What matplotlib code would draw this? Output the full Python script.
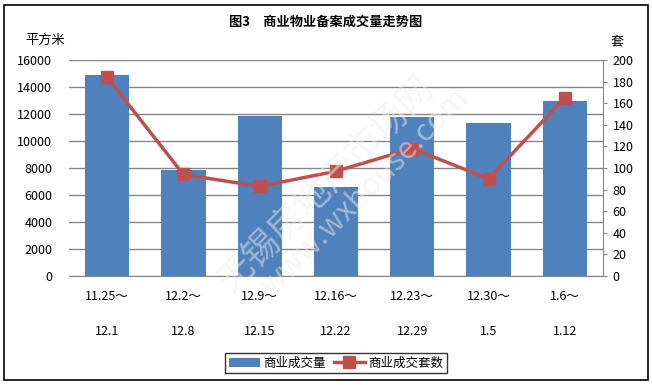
import numpy as np
import matplotlib.pyplot as plt
from matplotlib.patches import Rectangle

plt.rcParams['font.family'] = ['Noto Sans CJK SC', 'DejaVu Sans']

# data
weeks_start = ['11.25～', '12.2～', '12.9～', '12.16～', '12.23～', '12.30～', '1.6～']
weeks_end = ['12.1', '12.8', '12.15', '12.22', '12.29', '1.5', '1.12']
area = [14900, 7850, 11850, 6600, 11800, 11330, 12960]   # 商业成交量 (平方米)
units = [184, 94, 83, 97, 118, 90, 165]                  # 商业成交套数 (套)

blue = '#4F81BD'
red = '#C0504D'
grid = '#868686'

fig = plt.figure(figsize=(6.52, 3.85), dpi=100)
# outer frame
fig.patches.append(Rectangle((4 / 652, 5 / 385), 644 / 652, 375 / 385, transform=fig.transFigure,
                             fill=False, edgecolor='black', linewidth=1.2))

ax = fig.add_axes([69 / 652, 1 - 276 / 385, 534 / 652, 216 / 385])
x = np.arange(len(area))
b = ax.bar(x, area, width=0.58, color=blue, zorder=2, label='商业成交量')
ax.set_xlim(-0.5, len(area) - 0.5)
ax.set_ylim(0, 16000)
ax.set_yticks(np.arange(0, 16001, 2000))
ax.yaxis.grid(True, color=grid, linewidth=1)
ax.set_axisbelow(True)
for s in ['top', 'left', 'right']:
    ax.spines[s].set_visible(False)
ax.spines['bottom'].set_color(grid)
ax.tick_params(axis='y', length=0, pad=12, labelsize=9)
ax.set_xticks(x)
ax.set_xticklabels([a + '\n\n' + e for a, e in zip(weeks_start, weeks_end)], fontsize=9, linespacing=1.45)
ax.tick_params(axis='x', length=0, pad=10)

ax2 = ax.twinx()
l, = ax2.plot(x, units, color=red, linewidth=2.5, marker='s', markersize=8, zorder=3, label='商业成交套数')
ax2.set_ylim(0, 200)
ax2.set_yticks(np.arange(0, 201, 20))
for s in ['top', 'left', 'bottom']:
    ax2.spines[s].set_visible(False)
ax2.spines['right'].set_color(grid)
ax2.tick_params(axis='y', length=3, color=grid, labelsize=9, pad=4)

fig.text(0.5, 1 - 22 / 385, '图3\u3000商业物业备案成交量走势图', ha='center', va='center',
         fontsize=9.5, fontweight='bold')
fig.text(45 / 652, 1 - 40 / 385, '平方米', ha='center', va='center', fontsize=9.5)
fig.text(617 / 652, 1 - 42 / 385, '套', ha='center', va='center', fontsize=9.5)

# faint watermark
fig.text(0.5, 0.52, '无锡房地产市场网', rotation=45, ha='center', va='center', fontsize=26,
         color='#eeeeee', alpha=0.5, zorder=10)
fig.text(0.56, 0.5, 'www.wxhouse.com', rotation=45, ha='center', va='center', fontsize=22,
         color='#eeeeee', alpha=0.5, zorder=10)

leg = fig.legend([b, l], ['商业成交量', '商业成交套数'], loc='center', bbox_to_anchor=(336 / 652, 1 - 363 / 385),
                 ncol=2, fontsize=9, frameon=True, fancybox=False, edgecolor='black',
                 handlelength=2.5, columnspacing=0.6, handletextpad=0.3, borderpad=0.3)
leg.get_frame().set_linewidth(1)

fig.savefig('out.png', dpi=100)
